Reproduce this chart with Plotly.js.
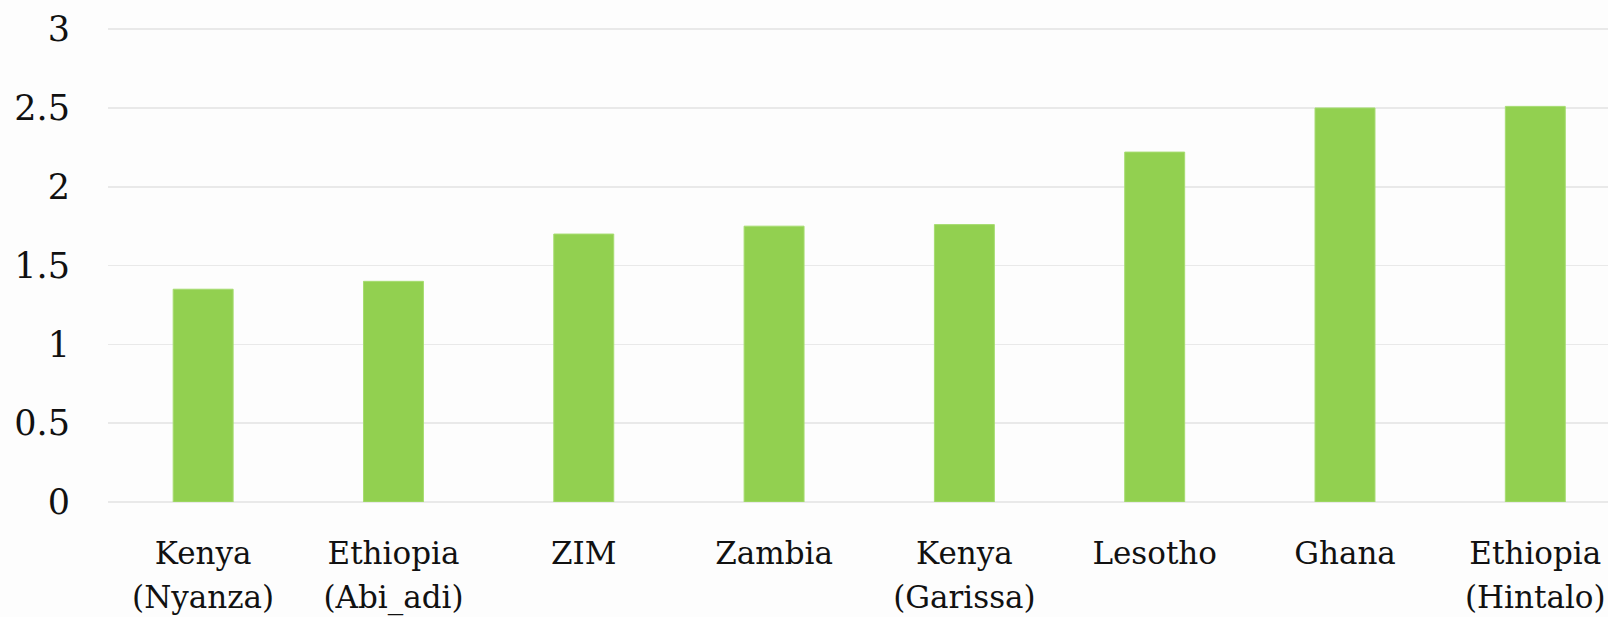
<!DOCTYPE html>
<html>
<head>
<meta charset="utf-8">
<script src="https://cdn.plot.ly/plotly-3.0.1.min.js"></script>
<style>
  html, body { margin: 0; padding: 0; background: #fdfdfd; }
  #chart { width: 1608px; height: 617px; }
</style>
</head>
<body>
<div id="chart"></div>
<script>
// Sites, in ascending order of value (name and region on separate label rows)
const siteNames   = ["Kenya", "Ethiopia", "ZIM", "Zambia", "Kenya", "Lesotho", "Ghana", "Ethiopia"];
const siteRegions = ["(Nyanza)", "(Abi_adi)", "", "", "(Garissa)", "", "", "(Hintalo)"];
const values = [1.35, 1.40, 1.70, 1.75, 1.76, 2.22, 2.50, 2.51];
const yTicks = [0, 0.5, 1, 1.5, 2, 2.5, 3];
const yTickText = ["0", "0.5", "1", "1.5", "2", "2.5", "3"];

const FONT = "DejaVu Serif, serif";
const positions = siteNames.map((_, i) => i);

const trace = {
  type: "bar",
  x: positions,
  y: values,
  width: 0.315,
  marker: { color: "#92d050", line: { color: "#a6dc70", width: 1 } },
  hoverinfo: "skip"
};

// invisible companion trace so the second label row has an axis to live on
const regionTrace = {
  type: "scatter",
  mode: "markers",
  x: positions,
  y: positions.map(() => null),
  xaxis: "x2",
  yaxis: "y",
  hoverinfo: "skip",
  showlegend: false
};

const xBase = {
  range: [-0.5, 7.382],
  tickmode: "array",
  tickvals: positions,
  showgrid: false,
  zeroline: false,
  showline: false,
  ticks: "outside",
  tickcolor: "rgba(0,0,0,0)",
  tickfont: { family: FONT, size: 31, color: "#111111" },
  fixedrange: true
};

const layout = {
  width: 1608,
  height: 617,
  margin: { l: 108, r: 0, t: 25.9, b: 114.5, pad: 0 },
  paper_bgcolor: "#fdfdfd",
  plot_bgcolor: "#fdfdfd",
  showlegend: false,
  bargap: 0,
  xaxis: Object.assign({}, xBase, { ticktext: siteNames, ticklen: 24 }),
  xaxis2: Object.assign({}, xBase, {
    ticktext: siteRegions, ticklen: 68, overlaying: "x", anchor: "y", side: "bottom"
  }),
  yaxis: {
    range: [0, 3.02],
    tickmode: "array",
    tickvals: yTicks,
    ticktext: yTickText,
    showgrid: true,
    gridcolor: "#e9e9e9",
    gridwidth: 1.5,
    zeroline: true,
    zerolinecolor: "#e9e9e9",
    zerolinewidth: 1.5,
    showline: false,
    ticks: "outside",
    ticklen: 30,
    tickcolor: "rgba(0,0,0,0)",
    tickfont: { family: FONT, size: 35, color: "#111111" },
    fixedrange: true
  }
};

Plotly.newPlot("chart", [trace, regionTrace], layout, { displayModeBar: false, staticPlot: true });
</script>
</body>
</html>
